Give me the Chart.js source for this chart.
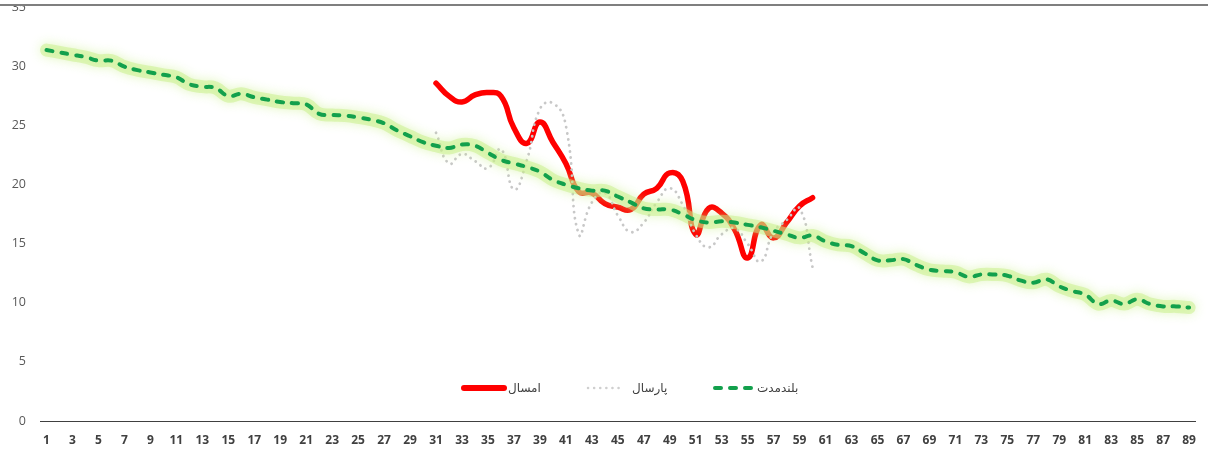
<!DOCTYPE html>
<html>
<head>
<meta charset="utf-8">
<script src="https://cdn.jsdelivr.net/npm/chart.js@4.4.1/dist/chart.umd.min.js"></script>
<style>
  html, body { margin:0; padding:0; background:#fff; }
  #wrap { position:relative; width:1208px; height:450px; overflow:hidden; background:#fff; }
  #c { position:absolute; left:0; top:-14px; }
  .sym { position:absolute; top:381px; }
  .lt { position:absolute; top:379px; font-family:"DejaVu Sans", "Noto Sans", sans-serif; font-size:12px; line-height:18px; color:#404040; white-space:nowrap; }
</style>
</head>
<body>
<div id="wrap">
  <canvas id="c" width="1208" height="470"></canvas>
  <svg class="sym" style="left:459px" width="50" height="14"><line x1="5" y1="7" x2="45" y2="7" stroke="#ff0000" stroke-width="6" stroke-linecap="round"/></svg>
  <span class="lt" dir="rtl" style="left:508px">امسال</span>
  <svg class="sym" style="left:584px" width="40" height="14"><line x1="4" y1="7" x2="36" y2="7" stroke="#cfcfcf" stroke-width="2.5" stroke-linecap="round" stroke-dasharray="0.1 6"/></svg>
  <span class="lt" dir="rtl" style="left:632px">پارسال</span>
  <svg class="sym" style="left:710px" width="46" height="14"><line x1="5" y1="7" x2="42" y2="7" stroke="#12a04c" stroke-width="4" stroke-linecap="round" stroke-dasharray="6 9"/></svg>
  <span class="lt" dir="rtl" style="left:757px">بلندمدت</span>
</div>
<script>
// ---- data ----
const categories = Array.from({ length: 89 }, (_, i) => String(i + 1));
const yTicks = [0, 5, 10, 15, 20, 25, 30, 35];

// long-term (بلندمدت), categories 1..89
const longTerm = [
  31.4, 31.2, 31.0, 30.8, 30.5, 30.5, 30.0, 29.7, 29.5, 29.3,
  29.1, 28.5, 28.3, 28.2, 27.5, 27.7, 27.4, 27.2, 27.0, 26.9,
  26.8, 26.0, 25.9, 25.85, 25.7, 25.5, 25.2, 24.6, 24.1, 23.6,
  23.3, 23.1, 23.4, 23.3, 22.7, 22.1, 21.8, 21.5, 21.1, 20.4,
  20.0, 19.7, 19.5, 19.5, 19.0, 18.5, 18.0, 17.9, 17.9, 17.5,
  17.0, 16.8, 16.9, 16.8, 16.6, 16.4, 16.1, 15.8, 15.5, 15.7,
  15.2, 14.9, 14.8, 14.2, 13.6, 13.6, 13.7, 13.2, 12.8, 12.7,
  12.6, 12.2, 12.4, 12.4, 12.3, 11.9, 11.7, 12.0, 11.4, 11.0,
  10.7, 9.9, 10.2, 9.9, 10.3, 9.9, 9.7, 9.7, 9.6
];

// this year (امسال), categories 31..60
const thisYearStart = 31;
const thisYear = [
  28.6, 27.5, 27.0, 27.6, 27.8, 27.5, 24.8, 23.5, 25.3, 23.6,
  21.8, 19.4, 19.3, 18.4, 18.1, 17.9, 19.2, 19.7, 21.0, 20.3,
  15.8, 18.0, 17.6, 16.2, 13.8, 16.6, 15.5, 16.8, 18.2, 18.9
];

// last year (پارسال), categories 31..60
const lastYearStart = 31;
const lastYear = [
  24.4, 21.8, 22.6, 22.0, 21.4, 23.0, 19.6, 22.1, 26.4, 26.9,
  25.0, 15.8, 18.5, 19.3, 17.4, 16.0, 16.8, 18.5, 19.7, 18.3,
  15.8, 14.7, 15.8, 16.3, 15.0, 13.5, 16.0, 17.0, 18.0, 13.0
];

function place(values, start) {
  return categories.map((c, i) => {
    const k = i - (start - 1);
    return (k >= 0 && k < values.length) ? values[k] : null;
  });
}

// ---- plugins ----
const glowPlugin = {
  id: 'glow',
  beforeDatasetDraw(chart, args) {
    const ds = chart.data.datasets[args.index];
    if (ds.glowColor) {
      chart.ctx.save();
      chart.ctx.shadowColor = ds.glowColor;
      chart.ctx.shadowBlur = ds.glowBlur;
    }
  },
  afterDatasetDraw(chart, args) {
    const ds = chart.data.datasets[args.index];
    if (ds.glowColor) chart.ctx.restore();
  }
};

const frameLine = {
  id: 'frameLine',
  afterDraw(chart) {
    const ctx = chart.ctx;
    ctx.save();
    ctx.fillStyle = '#ffffff';
    ctx.fillRect(0, 0, chart.width, 18);
    ctx.strokeStyle = '#7f7f7f';
    ctx.lineWidth = 2;
    ctx.beginPath();
    ctx.moveTo(0, 19);
    ctx.lineTo(chart.width, 19);
    ctx.stroke();
    ctx.restore();
  }
};

new Chart(document.getElementById('c'), {
  type: 'line',
  data: {
    labels: categories,
    datasets: [
      {
        label: 'بلندمدت',
        data: longTerm,
        borderColor: '#12a04c',
        borderWidth: 4,
        borderDash: [6, 9],
        borderCapStyle: 'round',
        tension: 0.4,
        pointRadius: 0,
        fill: false,
        order: 0
      },
      {
        label: 'glow',
        data: longTerm,
        borderColor: 'rgba(200,240,135,0.5)',
        borderWidth: 13,
        borderCapStyle: 'round',
        borderJoinStyle: 'round',
        glowColor: 'rgba(195,238,125,0.95)',
        glowBlur: 11,
        tension: 0.4,
        pointRadius: 0,
        fill: false,
        clip: 12,
        order: 1
      },
      {
        label: 'پارسال',
        data: place(lastYear, lastYearStart),
        borderColor: '#c8c8c8',
        borderWidth: 2.8,
        borderDash: [0.1, 6],
        borderCapStyle: 'round',
        tension: 0.5,
        pointRadius: 0,
        fill: false,
        order: 2
      },
      {
        label: 'امسال',
        data: place(thisYear, thisYearStart),
        borderColor: '#ff0000',
        borderWidth: 5.5,
        borderCapStyle: 'round',
        borderJoinStyle: 'round',
        tension: 0.5,
        pointRadius: 0,
        fill: false,
        order: 3
      }
    ]
  },
  options: {
    responsive: false,
    animation: false,
    devicePixelRatio: 1,
    layout: { padding: { top: 20, right: 5, left: 0, bottom: 0 } },
    plugins: {
      legend: { display: false },
      tooltip: { enabled: false }
    },
    scales: {
      x: {
        offset: true,
        grid: { display: false, drawTicks: false },
        border: { display: true, color: '#404040', width: 1 },
        ticks: {
          autoSkip: false,
          maxRotation: 0,
          minRotation: 0,
          padding: 12,
          color: '#404040',
          font: { family: 'Open Sans', size: 12, weight: 'bold' },
          callback: (v, i) => (i % 2 === 0 ? categories[i] : '')
        },
        afterFit: (s) => { s.height = 35; }
      },
      y: {
        min: yTicks[0],
        max: yTicks[yTicks.length - 1],
        grid: { display: false, drawTicks: false },
        border: { display: false },
        afterBuildTicks: (s) => { s.ticks = yTicks.map(v => ({ value: v })); },
        ticks: {
          padding: 14,
          color: '#595959',
          font: { family: 'Open Sans', size: 12.5 }
        },
        afterFit: (s) => { s.width = 40; }
      }
    }
  },
  plugins: [glowPlugin, frameLine]
});
</script>
</body>
</html>
